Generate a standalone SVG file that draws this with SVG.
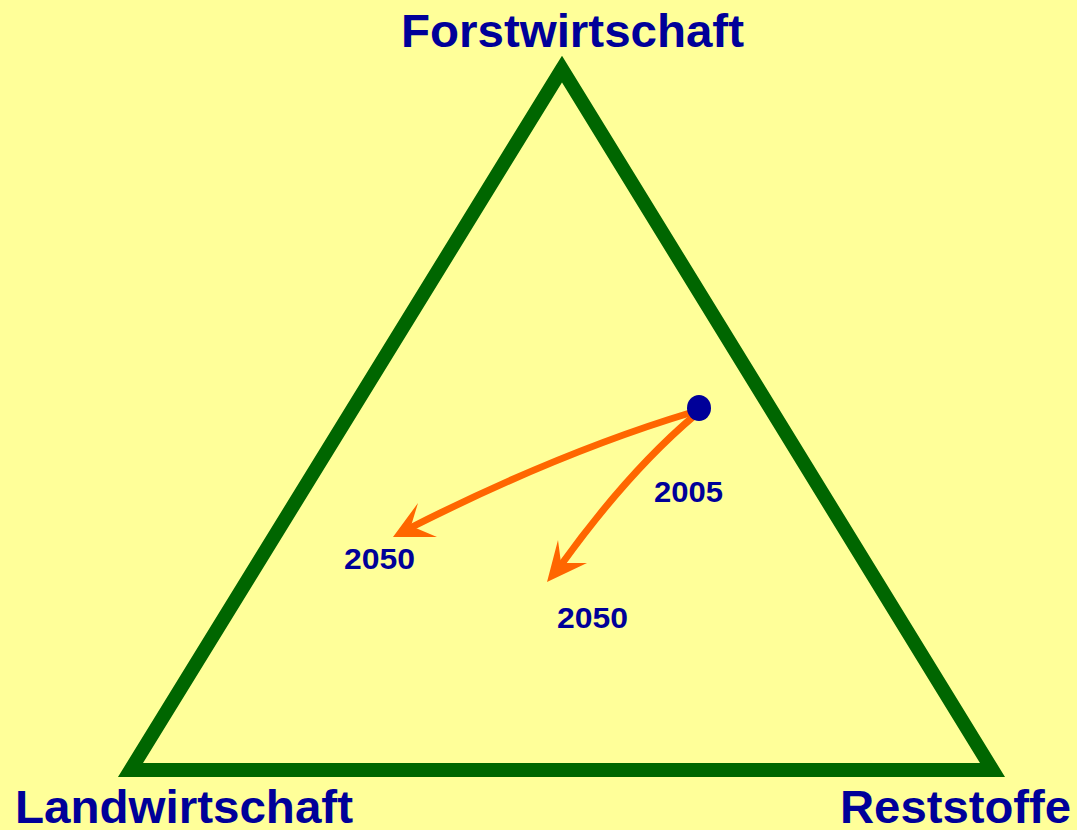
<svg xmlns="http://www.w3.org/2000/svg" width="1077" height="830" viewBox="0 0 1077 830">
<style>
.lbl{font-family:"Liberation Sans",Arial,sans-serif;font-weight:bold;fill:#000099}
.big{font-size:46px}
.yr{font-size:30px}
.arr{fill:none;stroke:#FF6600;stroke-width:7;stroke-linecap:round}
.head{fill:#FF6600}
</style>
<rect width="1077" height="830" fill="#FFFF99"/>
<g id="triangle">
<polygon points="562,69 130.5,770 992.5,770" fill="none" stroke="#006600" stroke-width="14" stroke-linejoin="miter" stroke-miterlimit="10"/>
</g>
<g id="forst"><text class="lbl big" x="401" y="47" textLength="343" lengthAdjust="spacingAndGlyphs">Forstwirtschaft</text></g>
<g id="land"><text class="lbl big" x="15" y="823" textLength="338" lengthAdjust="spacingAndGlyphs">Landwirtschaft</text></g>
<g id="rest"><text class="lbl big" x="840" y="823" textLength="231" lengthAdjust="spacingAndGlyphs">Reststoffe</text></g>
<g id="connectors">
<path class="arr" d="M693,412 Q560,452 410,528"/>
<polygon class="head" points="393,537 418,503 411,526 437,537"/>
<path class="arr" d="M694,416 Q628,472 561,565"/>
<polygon class="head" points="547,582 558,540 561,563 587,563"/>
</g>
<g id="point2005"><ellipse cx="699" cy="408" rx="12" ry="13" fill="#000099"/></g>
<g id="y2005"><text class="lbl yr" x="654" y="502" textLength="69" lengthAdjust="spacingAndGlyphs">2005</text></g>
<g id="y2050a"><text class="lbl yr" x="344" y="569" textLength="71" lengthAdjust="spacingAndGlyphs">2050</text></g>
<g id="y2050b"><text class="lbl yr" x="557" y="628" textLength="71" lengthAdjust="spacingAndGlyphs">2050</text></g>
</svg>
